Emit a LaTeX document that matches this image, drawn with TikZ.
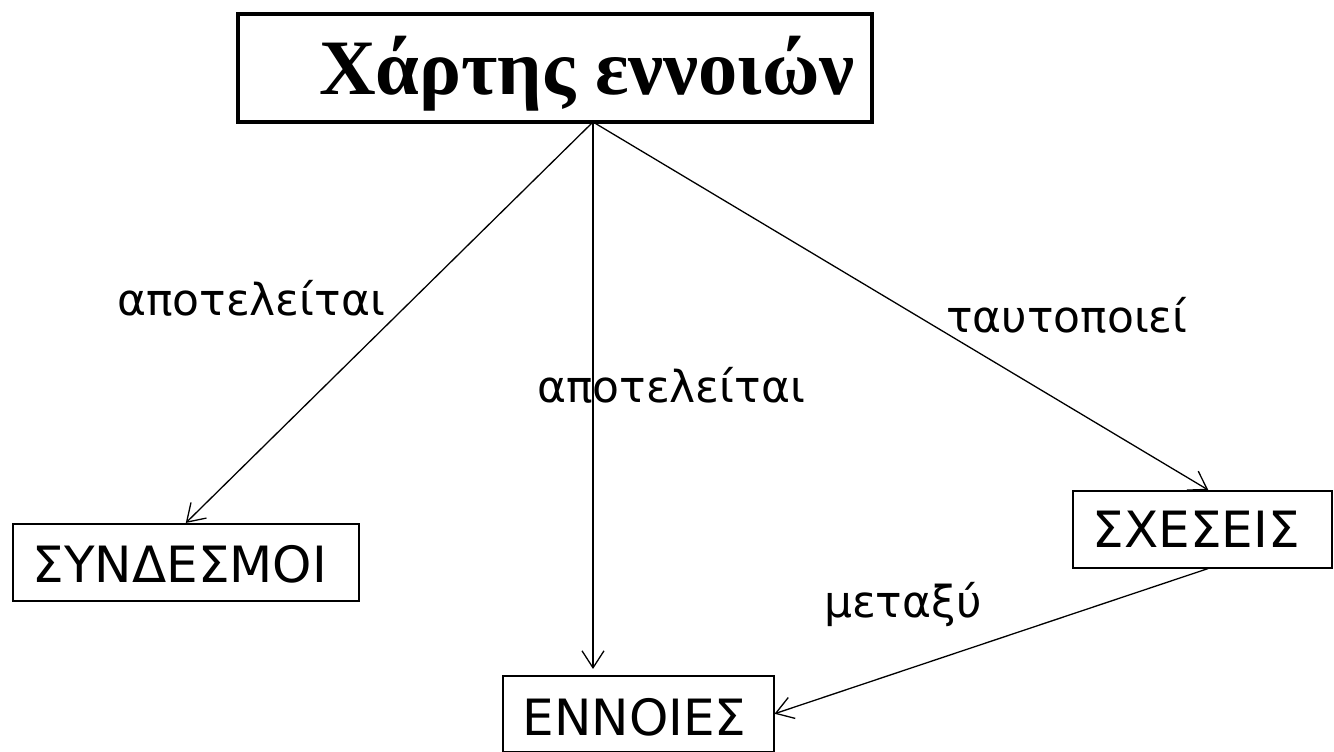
\documentclass[tikz,border=0pt]{standalone}
\usepackage{fontspec}
\setmainfont{DejaVu Sans}
\newfontfamily\titlefont{Liberation Serif}
\usetikzlibrary{arrows.meta}
\begin{document}
\begin{tikzpicture}[x=1pt,y=-1pt,
  box/.style={draw, line width=1.5pt, inner sep=0pt, anchor=north west,
    font=\fontsize{50}{58}\selectfont, text depth=0pt},
  lbl/.style={anchor=base west, inner sep=0pt, font=\fontsize{44}{50}\selectfont},
  conn/.style={line width=1.3pt, -{Straight Barb[length=17pt,width=22pt]}}]
\useasboundingbox (0,0) rectangle (1334,752);
\fill[white] (0,0) rectangle (1334,752);
% boxes
\node[box, line width=4pt, minimum height=108pt, text height=54pt,
  font=\titlefont\bfseries\fontsize{78.5}{86}\selectfont] (title) at (236,12)
  {\makebox[634pt][l]{\hspace*{81pt}Χάρτης εννοιών}};
\node[box, minimum height=77pt, text height=41pt] (syn) at (12,523)
  {\makebox[346pt][l]{\hspace*{20pt}ΣΥΝΔΕΣΜΟΙ}};
\node[box, minimum height=76pt, text height=44pt] (enn) at (502,675)
  {\makebox[271pt][l]{\hspace*{20pt}ΕΝΝΟΙΕΣ}};
\node[box, minimum height=77pt, text height=37pt] (sch) at (1072,490)
  {\makebox[259pt][l]{\hspace*{20pt}ΣΧΕΣΕΙΣ}};
% connectors
\coordinate (ts) at (593,122);
\coordinate (ea) at (593,669);
\draw[conn] (ts) -- (syn.north);
\draw[conn] (ts) -- (ea);
\draw[conn] (ts) -- ([xshift=6pt]sch.north);
\draw[conn] ([xshift=6pt]sch.south) -- (enn.east);
% labels
\node[lbl] (l1) at (117,315) {αποτελείται};
\node[lbl] (l2) at (537,402) {αποτελείται};
\node[lbl] (l3) at (946,332) {ταυτοποιεί};
\node[lbl] (l4) at (824,617) {μεταξύ};
\end{tikzpicture}
\end{document}
